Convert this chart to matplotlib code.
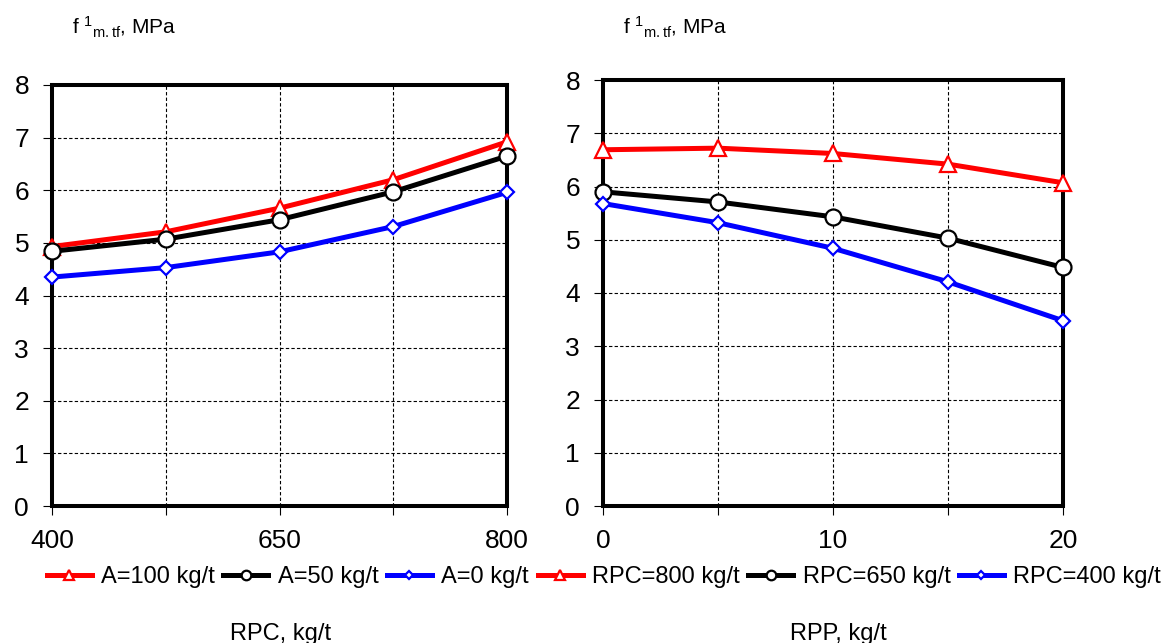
import matplotlib
matplotlib.use("Agg")
import matplotlib.pyplot as plt

plt.rcParams['font.family'] = ['Liberation Sans', 'DejaVu Sans']
plt.rcParams['mathtext.fontset'] = 'custom'
plt.rcParams['mathtext.rm'] = 'Liberation Sans'
plt.rcParams['mathtext.it'] = 'Liberation Sans'

# left panel: RPC on a category axis, labels only on every other point
rpc_pos = [0, 1, 2, 3, 4]
rpc_tick_labels = ["400", "", "650", "", "800"]
a100 = [4.93, 5.21, 5.66, 6.20, 6.92]
a50 = [4.84, 5.07, 5.44, 5.97, 6.65]
a0 = [4.35, 4.53, 4.83, 5.31, 5.96]
left_labels = ["A=100 kg/t", "A=50 kg/t", "A=0 kg/t"]

# right panel: RPP
rpp = [0, 5, 10, 15, 20]
rpp_ticks = [0, 10, 20]
rpc800 = [6.69, 6.72, 6.62, 6.42, 6.07]
rpc650 = [5.90, 5.71, 5.43, 5.03, 4.48]
rpc400 = [5.68, 5.32, 4.84, 4.21, 3.48]
right_labels = ["RPC=800 kg/t", "RPC=650 kg/t", "RPC=400 kg/t"]

y_ticks = [0, 1, 2, 3, 4, 5, 6, 7, 8]

W, H = 1167, 643
fig = plt.figure(figsize=(W / 100, H / 100), dpi=100)
ax1 = fig.add_axes([52 / W, (H - 506) / H, 455 / W, 421 / H])
ax2 = fig.add_axes([603 / W, (H - 506) / H, 460 / W, 426 / H])

styles = [
    dict(color="red", marker="^", markersize=12),
    dict(color="black", marker="o", markersize=11.5),
    dict(color="blue", marker="D", markersize=7.5),
]


def draw(ax, x, series, labels):
    lines = []
    for ys, lab, st in zip(series, labels, styles):
        ln, = ax.plot(x, ys, color=st["color"], lw=3.6, marker=st["marker"],
                      markersize=st["markersize"], markerfacecolor="white",
                      markeredgecolor=st["color"], markeredgewidth=1.6,
                      label=lab, clip_on=False, zorder=3)
        lines.append(ln)
    ax.set_ylim(0, 8)
    ax.set_yticks(y_ticks)
    ax.grid(True, color="black", linestyle=(0, (3, 2)), lw=0.8)
    ax.set_axisbelow(True)
    for sp in ax.spines.values():
        sp.set_linewidth(2.9)
        sp.set_color("black")
    ax.tick_params(direction="out", length=6.5, width=0.8, labelsize=19,
                   pad=10, colors="black")
    return lines


l1 = draw(ax1, rpc_pos, [a100, a50, a0], left_labels)
ax1.set_xlim(0, 4)
ax1.set_xticks(rpc_pos)
ax1.set_xticklabels(rpc_tick_labels)

l2 = draw(ax2, rpp, [rpc800, rpc650, rpc400], right_labels)
ax2.set_xlim(0, 20)
ax2.set_xticks(rpp)
ax2.set_xticklabels([str(v) if v in rpp_ticks else "" for v in rpp])

leg_kw = dict(loc="center left", ncol=3, frameon=False, fontsize=17,
              handlelength=1.9, handletextpad=0.4, columnspacing=0.35,
              borderpad=0, borderaxespad=0, markerscale=0.6)
fig.legend(l1, left_labels, bbox_to_anchor=(47 / W, 1 - 577 / H), **leg_kw)
fig.legend(l2, right_labels, bbox_to_anchor=(538 / W, 1 - 577 / H), **leg_kw)

title = r"f $^{1}$$_{\mathregular{m.tf}}$, MPa"
fig.text(72 / W, 1 - 35 / H, title, fontsize=15, va="baseline", ha="left")
fig.text(623 / W, 1 - 35 / H, title, fontsize=15, va="baseline", ha="left")

fig.text(281 / W, 1 - 640 / H, "RPC, kg/t", fontsize=17, va="baseline", ha="center")
fig.text(838 / W, 1 - 640 / H, "RPP, kg/t", fontsize=17, va="baseline", ha="center")

fig.savefig("out.png", dpi=100)
